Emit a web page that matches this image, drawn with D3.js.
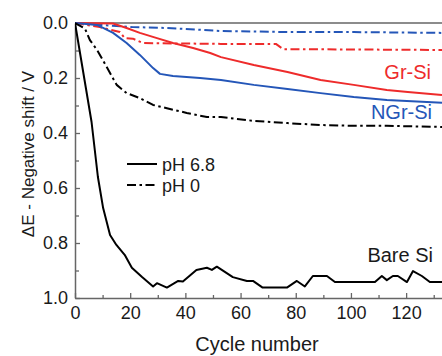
<!DOCTYPE html>
<html><head><meta charset="utf-8">
<script src="https://cdn.jsdelivr.net/npm/d3@7"></script>
<style>body{margin:0;background:#fff}svg{display:block;font-family:"Liberation Sans",Arial,sans-serif}</style>
</head><body><svg id="c" width="442" height="356"></svg>
<script>
const xTicks = [0,20,40,60,80,100,120];
const xMinor = [10,30,50,70,90,110,130];
const yTicks = [0,0.2,0.4,0.6,0.8,1.0];
const yMinor = [0.1,0.3,0.5,0.7,0.9];

const bareSi68 = [[0,0],[2,0.12],[4,0.24],[6,0.36],[8.3,0.56],[10.2,0.673],[12.7,0.771],[15,0.807],[18,0.843],[20.6,0.89],[24.3,0.924],[28.3,0.958],[29.7,0.946],[33.3,0.962],[37.4,0.938],[39.1,0.94],[44,0.898],[47.8,0.89],[49.6,0.898],[51.4,0.886],[57.2,0.924],[62.3,0.938],[64.5,0.938],[68,0.962],[76.8,0.962],[80.4,0.938],[83.3,0.958],[86.2,0.92],[91.3,0.92],[94.2,0.942],[108.7,0.942],[111.2,0.92],[113,0.935],[115.2,0.92],[117,0.92],[120.3,0.942],[122.5,0.902],[125.7,0.92],[128.6,0.942],[133,0.942]];
const bareSi0 = [[0,0],[3.6,0.02],[5.4,0.062],[8,0.098],[11.5,0.16],[15.1,0.225],[18.7,0.255],[23.5,0.273],[28.3,0.298],[33.3,0.31],[40.5,0.327],[47.8,0.342],[52.9,0.342],[64.8,0.356],[77,0.364],[89,0.371],[101,0.374],[113,0.374],[133,0.378]];
const ngrSi68 = [[0,0],[8,0.007],[13.8,0.036],[18.7,0.073],[23.5,0.116],[28.3,0.164],[30.8,0.185],[35.5,0.193],[45.3,0.2],[52.9,0.207],[64.8,0.225],[77,0.24],[89,0.255],[101,0.269],[113,0.28],[133,0.29]];
const grSi68 = [[0,0],[13.8,0.002],[18.7,0.018],[23.5,0.036],[29.7,0.055],[35.5,0.073],[42.8,0.091],[49,0.109],[52.9,0.124],[64.8,0.153],[77,0.178],[89,0.207],[101,0.225],[113,0.244],[120.6,0.251],[133,0.262]];
const grSi0 = [[0,0],[9,0.015],[16.3,0.033],[18,0.055],[21,0.057],[24.7,0.073],[52.9,0.076],[72.8,0.076],[75.4,0.095],[133,0.098]];
const ngrSi0 = [[0,0],[9,0.007],[21,0.015],[33,0.018],[52.9,0.029],[77,0.033],[101,0.033],[133,0.036]];

const seriesNames = ["Bare Si","Gr-Si","NGr-Si"];
const legendLabels = ["pH 6.8","pH 0"];

const RED = "#ee2b2b", BLUE = "#2456b8", BLACK = "#000", AX = "#666";
const DASHDOT = "9,3.5,2.5,3.5";

const svg = d3.select("#c");
const x = d3.scaleLinear().domain([0,133]).range([75,442]);
const y = d3.scaleLinear().domain([0,1]).range([23,298]);

// axes
const gx = svg.append("g").attr("transform","translate(0,298)")
  .call(d3.axisBottom(x).tickValues(xTicks).tickFormat(d3.format("d")).tickSizeInner(-5).tickSizeOuter(0).tickPadding(8));
const gxm = svg.append("g").attr("transform","translate(0,298)")
  .call(d3.axisBottom(x).tickValues(xMinor).tickFormat("").tickSizeInner(-3).tickSizeOuter(0));
const gy = svg.append("g").attr("transform","translate(75,0)")
  .call(d3.axisLeft(y).tickValues(yTicks).tickFormat(d3.format(".1f")).tickSizeInner(-5).tickSizeOuter(0).tickPadding(7));
const gym = svg.append("g").attr("transform","translate(75,0)")
  .call(d3.axisLeft(y).tickValues(yMinor).tickFormat("").tickSizeInner(-4).tickSizeOuter(0));
[gx,gxm,gy,gym].forEach(g=>{
  g.selectAll("path.domain").attr("stroke",AX).attr("stroke-width",1.5);
  g.selectAll(".tick line").attr("stroke",AX).attr("stroke-width",1.3);
  g.selectAll("text").attr("fill","#1a1a1a").attr("font-size",18).attr("font-family","Liberation Sans, Arial, sans-serif");
});
gxm.select("path.domain").remove(); gym.select("path.domain").remove();
// top border
svg.append("line").attr("x1",x(0)).attr("x2",x(133)).attr("y1",y(0)).attr("y2",y(0)).attr("stroke",AX).attr("stroke-width",1.5);

const line = d3.line().x(d=>x(d[0])).y(d=>y(d[1])).curve(d3.curveLinear);
const clip = svg.append("clipPath").attr("id","clp").append("rect").attr("x",x(0)).attr("y",y(0)-2).attr("width",x(133)-x(0)).attr("height",y(1)-y(0)+2);
const plot = svg.append("g").attr("clip-path","url(#clp)");
function draw(data,color,dash){
  const p = plot.append("path").datum(data).attr("d",line).attr("fill","none").attr("stroke",color).attr("stroke-width",2).attr("stroke-linejoin","round");
  if(dash) p.attr("stroke-dasharray",dash);
}
draw(ngrSi0,BLUE,DASHDOT);
draw(grSi0,RED,DASHDOT);
draw(grSi68,RED,null);
draw(ngrSi68,BLUE,null);
draw(bareSi0,BLACK,DASHDOT);
draw(bareSi68,BLACK,null);

// labels
const lab = (t,xx,yy,c,anchor,fs)=>svg.append("text").text(t).attr("x",xx).attr("y",yy).attr("fill",c).attr("text-anchor",anchor||"start").attr("font-size",fs||20);
lab(seriesNames[1],431,79,RED,"end");
lab(seriesNames[2],432,119,BLUE,"end");
lab(seriesNames[0],433,262,"#1a1a1a","end");

// legend
[[legendLabels[0],164,null],[legendLabels[1],185,DASHDOT]].forEach(([t,yy,dash])=>{
  const l = svg.append("line").attr("x1",127).attr("x2",157).attr("y1",yy).attr("y2",yy).attr("stroke","#000").attr("stroke-width",2);
  if(dash) l.attr("stroke-dasharray","9,3.5,2.5,3.5");
  lab(t,162,yy+6.5,"#1a1a1a","start",18);
});

// axis titles
lab("Cycle number",257,351,"#1a1a1a","middle",20);
svg.append("text").text("ΔE - Negative shift / V").attr("transform","translate(34,154) rotate(-90)")
  .attr("text-anchor","middle").attr("font-size",17).attr("fill","#1a1a1a");
</script></body></html>
